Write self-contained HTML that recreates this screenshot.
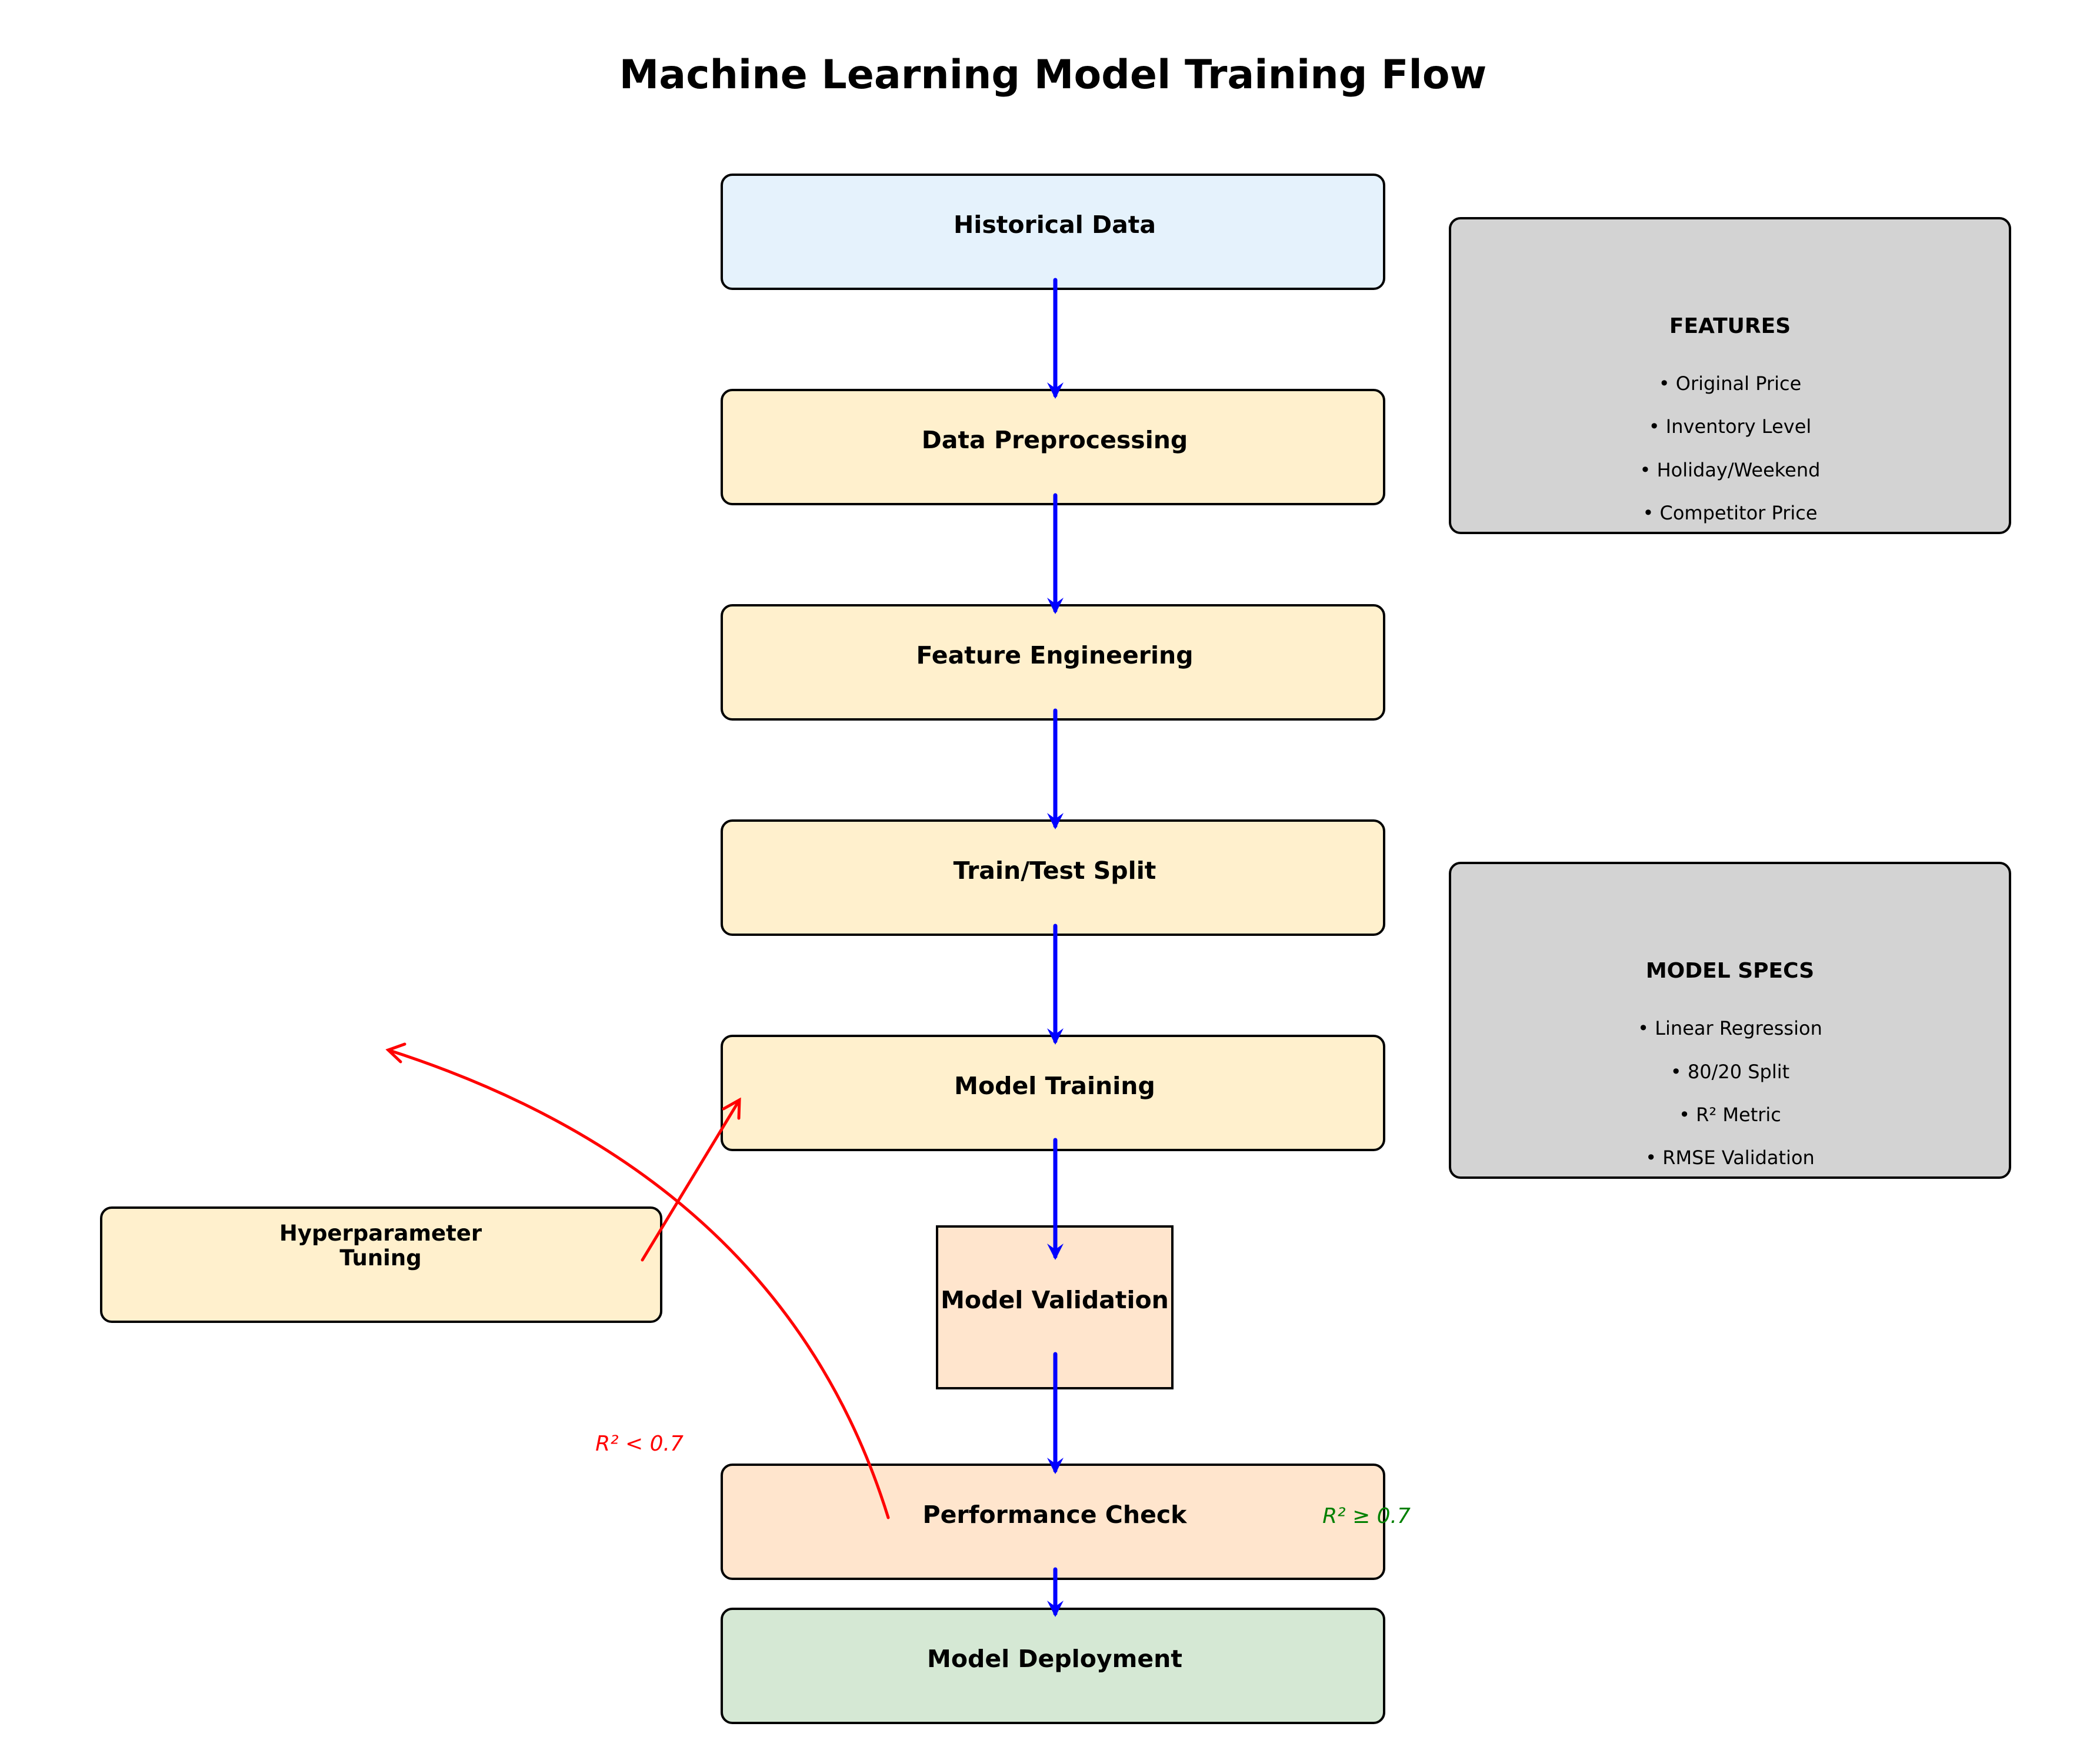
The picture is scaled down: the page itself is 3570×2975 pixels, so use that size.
<!DOCTYPE html>
<html><head><meta charset="utf-8"><style>
body{margin:0;width:3570px;height:2970px;background:#fff;overflow:hidden}
</style></head><body>
<svg width="3570" height="2970" xmlns="http://www.w3.org/2000/svg" font-family="DejaVu Sans, Liberation Sans, sans-serif">
<defs>
<marker id="bh" markerWidth="10" markerHeight="10" refX="7" refY="5" orient="auto" markerUnits="userSpaceOnUse" viewBox="0 0 10 10"><path d="M0,0 L8,5 L0,10" fill="none" stroke="blue" stroke-width="0"/></marker>
</defs>
<text x="1790" y="150" font-size="68" font-weight="bold" text-anchor="middle">Machine Learning Model Training Flow</text>
<g stroke="#000" stroke-width="4">
<rect x="1227" y="297" width="1126" height="194" rx="18" fill="#e5f2fc"/>
<rect x="1227" y="663" width="1126" height="194" rx="18" fill="#fff0cd"/>
<rect x="1227" y="1029" width="1126" height="194" rx="18" fill="#fff0cd"/>
<rect x="1227" y="1395" width="1126" height="194" rx="18" fill="#fff0cd"/>
<rect x="1227" y="1761" width="1126" height="194" rx="18" fill="#fff0cd"/>
<rect x="1593" y="2085" width="400" height="275" fill="#ffe5cd"/>
<rect x="1227" y="2490" width="1126" height="194" rx="18" fill="#ffe5cd"/>
<rect x="1227" y="2735" width="1126" height="194" rx="18" fill="#d5e8d4"/>
<rect x="172" y="2053" width="952" height="194" rx="18" fill="#fff0cd"/>
<rect x="2465" y="371" width="952" height="535" rx="18" fill="#d3d3d3"/>
<rect x="2465" y="1467" width="952" height="535" rx="18" fill="#d3d3d3"/>
</g>
<g font-size="41" font-weight="bold" text-anchor="middle">
<text x="1793" y="396">Historical Data</text>
<text x="1793" y="762">Data Preprocessing</text>
<text x="1793" y="1128">Feature Engineering</text>
<text x="1793" y="1494">Train/Test Split</text>
<text x="1793" y="1860">Model Training</text>
<text x="1793" y="2224">Model Validation</text>
<text x="1793" y="2589">Performance Check</text>
<text x="1793" y="2834">Model Deployment</text>
<text x="647" y="2109" font-size="37">Hyperparameter</text>
<text x="647" y="2151" font-size="37">Tuning</text>
<text x="2941" y="566" font-size="36">FEATURES</text>
<text x="2941" y="1662" font-size="36">MODEL SPECS</text>
</g>
<g font-size="32" text-anchor="middle">
<text x="2941" y="663">• Original Price</text>
<text x="2941" y="736">• Inventory Level</text>
<text x="2941" y="810">• Holiday/Weekend</text>
<text x="2941" y="883">• Competitor Price</text>
<text x="2941" y="1759">• Linear Regression</text>
<text x="2941" y="1833">• 80/20 Split</text>
<text x="2941" y="1906">• R² Metric</text>
<text x="2941" y="1979">• RMSE Validation</text>
</g>
<g stroke="blue" stroke-width="7" fill="none" stroke-linecap="round">
<line x1="1794" y1="476" x2="1794" y2="672"/>
<line x1="1794" y1="842" x2="1794" y2="1038"/>
<line x1="1794" y1="1208" x2="1794" y2="1404"/>
<line x1="1794" y1="1574" x2="1794" y2="1770"/>
<line x1="1794" y1="1938" x2="1794" y2="2136"/>
<line x1="1794" y1="2302" x2="1794" y2="2500"/>
<line x1="1794" y1="2668" x2="1794" y2="2743"/>
</g>
<g fill="blue">
<path d="M1780,650 L1794,678 L1808,650 L1794,660Z"/>
<path d="M1780,1016 L1794,1044 L1808,1016 L1794,1026Z"/>
<path d="M1780,1382 L1794,1410 L1808,1382 L1794,1392Z"/>
<path d="M1780,1748 L1794,1776 L1808,1748 L1794,1758Z"/>
<path d="M1780,2114 L1794,2142 L1808,2114 L1794,2124Z"/>
<path d="M1780,2478 L1794,2506 L1808,2478 L1794,2488Z"/>
<path d="M1780,2721 L1794,2749 L1808,2721 L1794,2731Z"/>
</g>
<g stroke="red" stroke-width="5" fill="none" stroke-linecap="round">
<line x1="1092" y1="2142" x2="1257" y2="1870"/>
<path d="M1230,1885 L1257,1870 L1256,1901"/>
<path d="M1510,2580 Q1330,2000 660,1785"/>
<path d="M688,1775 L660,1785 L681,1805"/>
</g>
<text x="1087" y="2466" font-size="36" font-style="italic" fill="red" text-anchor="middle">R² &lt; 0.7</text>
<text x="2323" y="2589" font-size="36" font-style="italic" fill="green" text-anchor="middle">R² ≥ 0.7</text>
</svg>
</body></html>
